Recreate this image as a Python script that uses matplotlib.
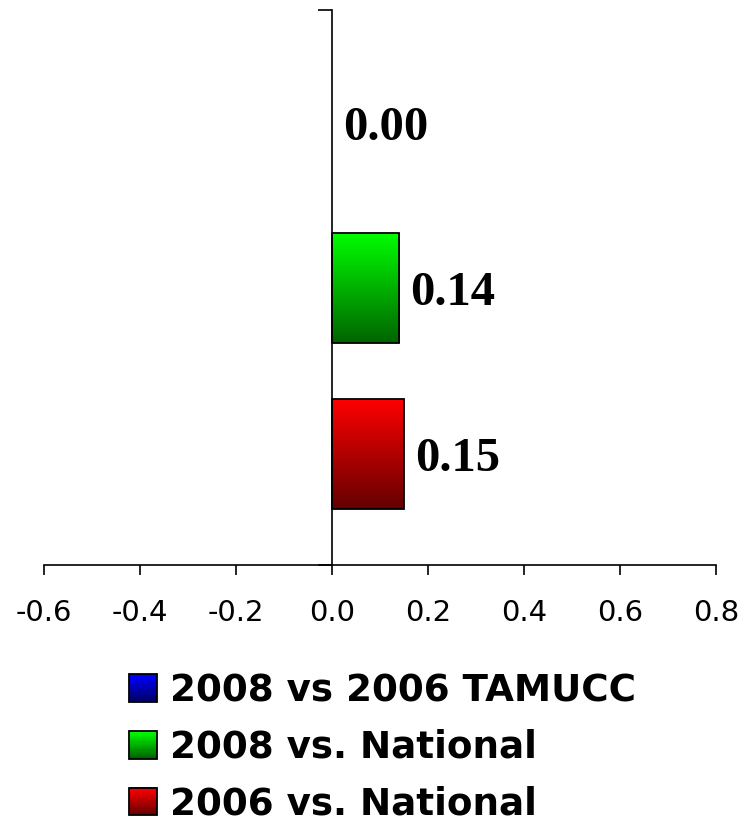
import matplotlib
matplotlib.use("Agg")
import matplotlib.pyplot as plt
import numpy as np
from matplotlib.colors import LinearSegmentedColormap
from matplotlib.legend_handler import HandlerBase
from matplotlib.patches import Rectangle

# data
series = ["2008 vs 2006 TAMUCC", "2008 vs. National", "2006 vs. National"]
values = [0.00, 0.14, 0.15]
positions = [1, 0, -1]
top_colors = ["#0000ff", "#00ff00", "#ff0000"]
bottom_colors = ["#000066", "#006400", "#640000"]
xticks = [-0.6, -0.4, -0.2, 0.0, 0.2, 0.4, 0.6, 0.8]


class GradientHandler(HandlerBase):
    def __init__(self, top, bottom, n=24):
        super().__init__()
        self.cmap = LinearSegmentedColormap.from_list("g", [bottom, top])
        self.n = n

    def create_artists(self, legend, orig_handle, xdescent, ydescent,
                       width, height, fontsize, trans):
        arts = []
        for i in range(self.n):
            r = Rectangle((-xdescent, -ydescent + height * i / self.n),
                          width, height / self.n + 0.3,
                          facecolor=self.cmap(i / (self.n - 1)),
                          linewidth=0, transform=trans)
            arts.append(r)
        border = Rectangle((-xdescent, -ydescent), width, height, fill=False,
                           edgecolor="black", linewidth=1.3, transform=trans)
        arts.append(border)
        return arts


fig = plt.figure(figsize=(7.5, 8.23), dpi=100)
ax = fig.add_axes([44 / 750, 1 - 565 / 823, 672 / 750, 555 / 823])

xlim = (-0.6, 0.8)
ylim = (-1.67, 1.675)
bar_h = 0.663

bars = ax.barh(positions, values, height=bar_h, color="none",
               edgecolor="black", linewidth=1.3, zorder=3)

grad = np.linspace(1, 0, 256).reshape(-1, 1)
for bar, top, bot in zip(bars, top_colors, bottom_colors):
    x0, y0 = bar.get_x(), bar.get_y()
    w, h = bar.get_width(), bar.get_height()
    if w == 0:
        bar.set_edgecolor("none")
        continue
    cmap = LinearSegmentedColormap.from_list("g", [bot, top])
    im = ax.imshow(grad, extent=[x0, x0 + w, y0, y0 + h], aspect="auto",
                   cmap=cmap, vmin=0, vmax=1, zorder=2, origin="upper")
    im.set_clip_path(bar)

for v, y in zip(values, positions):
    ax.annotate(f"{v:.2f}", (v, y), xytext=(8, -4), textcoords="offset points",
                ha="left", va="center", fontsize=35, fontweight="bold",
                family="Liberation Serif")

ax.set_xlim(*xlim)
ax.set_ylim(*ylim)
ax.set_xticks(xticks)
ax.set_xticklabels([f"{t:.1f}" for t in xticks])
ax.set_yticks(list(ylim))
ax.set_yticklabels([])

ax.spines["top"].set_visible(False)
ax.spines["right"].set_visible(False)
ax.spines["left"].set_position(("data", 0))
ax.spines["left"].set_linewidth(1.2)
ax.spines["bottom"].set_linewidth(1.2)
ax.tick_params(axis="x", direction="out", length=7.5, width=1.2,
               labelsize=21, pad=17)
ax.tick_params(axis="y", direction="out", length=10, width=1.2)
for lab in ax.get_xticklabels():
    lab.set_family("DejaVu Sans")

handles = [Rectangle((0, 0), 1, 1, label=s) for s in series]
hmap = {h: GradientHandler(t, b) for h, t, b in zip(handles, top_colors, bottom_colors)}
fig.legend(handles=handles, labels=series, handler_map=hmap,
           loc="upper left", bbox_to_anchor=(129 / 750, 1 - 672 / 823),
           frameon=False, borderpad=0, borderaxespad=0,
           prop={"family": "DejaVu Sans", "weight": "bold", "size": 26.8},
           handlelength=0.76, handleheight=0.76, handletextpad=0.35,
           labelspacing=0.53)

fig.savefig("out.png", dpi=100)
